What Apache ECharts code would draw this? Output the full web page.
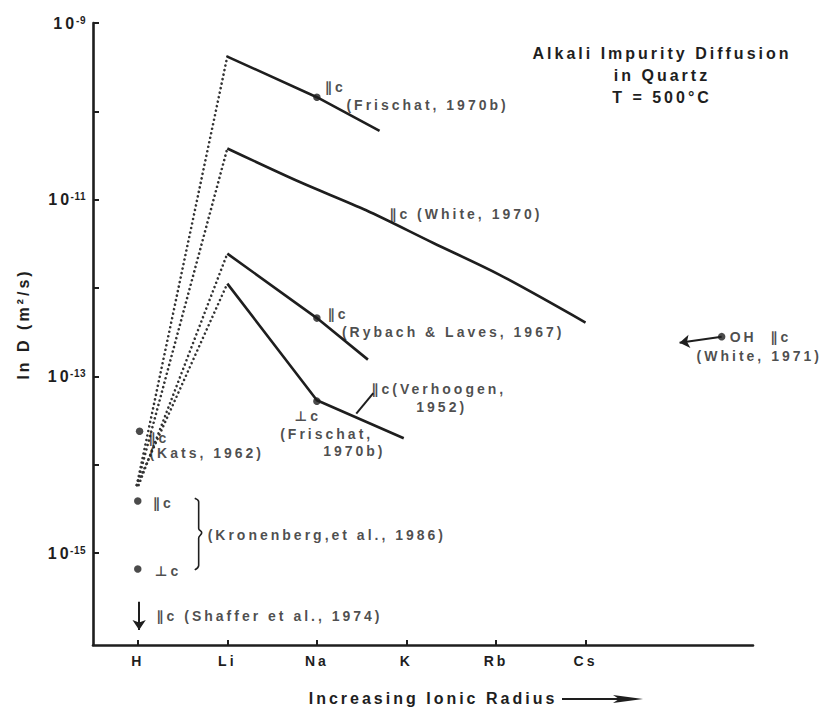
<!DOCTYPE html>
<html>
<head>
<meta charset="utf-8">
<style>
  body { margin: 0; background: #fff; }
  #container { width: 829px; height: 710px; }
  #container text { letter-spacing: 3px; }
  /* exponents of the tick labels stay tight */
  #container text[style*="10px"] { letter-spacing: 0.5px; }
</style>
</head>
<body>
<div id="container"></div>
<script src="https://cdn.jsdelivr.net/npm/echarts@6/dist/echarts.min.js"></script>
<script>
// x: ions by increasing radius, y: log10 of D (m2/s)
var ions = ['H', 'Li', 'Na', 'K', 'Rb', 'Cs'];
var ionPos = [1, 2, 3, 4, 5, 6];
var decadeTicks = [-9, -10, -11, -12, -13, -14, -15];
var decadeLabels = [-9, -11, -13, -15];

// solid trends
var frischatPar = [[2, -9.38], [3, -9.84], [3.70, -10.22]];
var white1970 = [[2, -10.42], [2.81, -10.80], [3.55, -11.12], [4.30, -11.49], [5.04, -11.85], [6, -12.39]];
var rybachLaves = [[2, -11.61], [3, -12.34], [3.57, -12.81]];
var frischatPerp = [[2, -11.95], [3, -13.27], [3.97, -13.70]];
var verhoogenTick = [[3.44, -13.42], [3.63, -13.19]];

// dotted links from H up to the Li ends
var dottedLinks = [
    [[0.99, -14.23], [2, -9.38]],
    [[0.99, -14.23], [2, -10.42]],
    [[1.01, -14.23], [2, -11.61]],
    [[0.99, -14.23], [2, -11.95]]
];

// measured points
var points = [[3, -9.84], [3, -12.34], [3, -13.28], [1.02, -13.62], [1, -14.41], [1, -15.18], [7.52, -12.55]];

// arrows: upper limit (Shaffer) and OH
var shafferArrow = [[1.015, -15.55], [1.015, -15.87]];
var ohArrow = [[7.52, -12.55], [7.05, -12.62]];

// brace around Kronenberg points
var brace = [[1.636, -14.38], [1.68, -14.42], [1.68, -14.72], [1.714, -14.77], [1.68, -14.83], [1.68, -15.14], [1.636, -15.19]];

// annotation texts [x, logD, text]
var notes = [
    [3.09, -9.72, '\u2225c'],
    [3.33, -9.93, '(Frischat, 1970b)'],
    [3.81, -11.16, '\u2225c (White, 1970)'],
    [3.12, -12.29, '\u2225c'],
    [3.28, -12.50, '(Rybach & Laves, 1967)'],
    [3.61, -13.14, '\u2225c(Verhoogen,'],
    [4.11, -13.35, '1952)'],
    [2.75, -13.45, '\u22A5c'],
    [2.59, -13.65, '(Frischat,'],
    [3.07, -13.84, '1970b)'],
    [1.12, -13.70, '\u2225c'],
    [1.13, -13.87, '(Kats, 1962)'],
    [1.17, -14.43, '\u2225c'],
    [1.19, -15.20, '\u22A5c'],
    [1.78, -14.80, '(Kronenberg,et al., 1986)'],
    [1.21, -15.71, '\u2225c (Shaffer et al., 1974)'],
    [7.61, -12.55, 'OH  \u2225c'],
    [7.24, -12.77, '(White, 1971)']
];

var ink = '#1e1e1e';
var font = 'Liberation Sans, DejaVu Sans';

function solid(data, w) {
    return {
        type: 'line', data: data, symbol: 'none', showSymbol: false, silent: true,
        lineStyle: {color: ink, width: w || 2.6}, z: 3
    };
}

var series = [
    solid(frischatPar), Object.assign(solid(white1970), {smooth: 0.3}), solid(rybachLaves), solid(frischatPerp),
    solid(verhoogenTick, 2),
    Object.assign(solid(brace, 1.6), {smooth: 0.4})
];
dottedLinks.forEach(function (d) {
    series.push({
        type: 'line', data: d, symbol: 'none', silent: true,
        lineStyle: {color: '#333', width: 2.6, type: [0.01, 4.6], cap: 'round'}, z: 2
    });
});
series.push({
    type: 'scatter', data: points, symbolSize: 7.5, silent: true,
    itemStyle: {color: ink}, z: 4,
    markLine: {
        silent: true, animation: false,
        symbol: ['none', 'arrow'], symbolSize: 10,
        label: {show: false},
        lineStyle: {color: ink, width: 2, type: 'solid'},
        emphasis: {disabled: true},
        data: [
            [{coord: shafferArrow[0]}, {coord: shafferArrow[1]}],
            [{coord: ohArrow[0]}, {coord: ohArrow[1]}]
        ]
    }
});
series.push({
    type: 'scatter', symbolSize: 0, silent: true, z: 5,
    data: notes.map(function (n) { return {value: [n[0], n[1]], name: n[2]}; }),
    label: {
        show: true, position: 'right', distance: 0, formatter: '{b}',
        color: ink, fontFamily: font, fontWeight: 'bold', fontSize: 14
    }
});

var chart = echarts.init(document.getElementById('container'), null, {renderer: 'svg'});
chart.setOption({
    animation: false,
    backgroundColor: '#fff',
    textStyle: {fontFamily: font},
    title: {
        text: 'Alkali Impurity Diffusion\nin Quartz\nT = 500\u00B0C',
        left: 662, top: 42, padding: 0, textAlign: 'center',
        textStyle: {color: ink, fontFamily: font, fontWeight: 'bold', fontSize: 16, lineHeight: 22}
    },
    grid: {left: 93, right: 76, top: 23, bottom: 65, outerBoundsMode: 'none'},
    xAxis: {
        type: 'value', min: 0.5, max: 7.87,
        name: 'Increasing Ionic Radius', nameLocation: 'middle', nameGap: 45,
        nameTextStyle: {color: ink, fontWeight: 'bold', fontSize: 16, padding: [0, 0, 0, 20]},
        axisLine: {lineStyle: {color: ink, width: 2.6}},
        axisTick: {inside: true, length: 5, customValues: ionPos, lineStyle: {color: ink, width: 2}},
        axisLabel: {
            customValues: ionPos, margin: 9, color: ink, fontWeight: 'bold', fontSize: 14,
            formatter: function (v) { return ions[ionPos.indexOf(Math.round(v))]; }
        },
        splitLine: {show: false}
    },
    yAxis: {
        type: 'value', min: -16.04, max: -9,
        name: 'ln D (m\u00B2/s)', nameLocation: 'middle', nameGap: 62,
        nameTextStyle: {color: ink, fontWeight: 'bold', fontSize: 16, padding: [0, 0, 0, 20]},
        axisLine: {lineStyle: {color: ink, width: 2.6}},
        axisTick: {inside: true, length: 6, customValues: decadeTicks, lineStyle: {color: ink, width: 2}},
        axisLabel: {
            customValues: decadeLabels, margin: 7, color: ink,
            formatter: function (v) { return '{a|10}{b|' + Math.round(v) + '}'; },
            rich: {
                a: {fontSize: 16, fontWeight: 'bold', color: ink, lineHeight: 16},
                b: {fontSize: 10, fontWeight: 'bold', color: ink, verticalAlign: 'top', lineHeight: 10, padding: [0, 0, 9, 0]}
            }
        },
        splitLine: {show: false}
    },
    graphic: [
        {type: 'line', shape: {x1: 562, y1: 699, x2: 625, y2: 699}, style: {stroke: ink, lineWidth: 2}},
        {type: 'polygon', shape: {points: [[613, 695], [643, 699], [613, 703], [619, 699]]}, style: {fill: ink}}
    ],
    series: series
});
</script>
</body>
</html>
